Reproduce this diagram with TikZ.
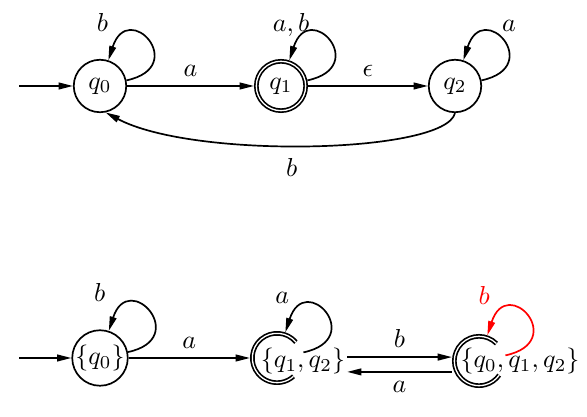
\documentclass[tikz,border=0pt]{standalone}
\usetikzlibrary{arrows.meta}
\begin{document}
\begin{tikzpicture}[x=0.385pt, y=-0.385pt,
  line width=0.65pt,
  >={Triangle[length=5.5pt,width=2.6pt]},
  state/.style={circle, draw, minimum size=20.2pt, inner sep=0pt},
  final/.style={circle, draw, double, double distance=0.5pt, minimum size=19pt, inner sep=0pt, outer sep=0.9pt},
  openfinal/.style={circle, minimum size=19pt, inner sep=0pt, outer sep=0.9pt},
  ring/.style={double, double distance=0.5pt},
  setlabel/.style={inner xsep=0.5pt, inner ysep=1pt},
  looplabel/.style={anchor=base, yshift=11.2pt}
]
\useasboundingbox (0,0) rectangle (587,417);

% upper automaton
\node[state] (q0) at (100,86) {$q_0$};
\node[final] (q1) at (281,86) {$q_1$};
\node[state] (q2) at (455,86) {$q_2$};
\coordinate (s0) at (19,86);
\draw[->] (s0) -- (q0);
\draw[->] (q0) -- node[above] {$a$} (q1);
\draw[->] (q1) -- node[above] {$\epsilon$} (q2);
\draw[->] (q0.12) .. controls +(12:25pt) and +(72:25pt) .. (q0.72)
  node[looplabel, xshift=-2.3pt] {$b$};
\draw[->] (q1.12) .. controls +(12:25pt) and +(72:25pt) .. (q1.72)
  node[looplabel, xshift=0.7pt] {$a,b$};
\draw[->] (q2.12) .. controls +(12:25pt) and +(72:25pt) .. (q2.72)
  node[looplabel, xshift=17.6pt] {$a$};
\draw[->] (q2.south) to[out=-103, in=-28, out distance=16pt, in distance=38.5pt]
  node[pos=0.54, below=1.5pt] {$b$} (q0.-78);

% lower automaton
\node[state] (C0) at (100,358) {$\{q_0\}$};
\node[openfinal] (C12) at (277,358) {};
\node[openfinal] (C012) at (479,361) {};
\draw[ring] ([shift={(40:9.5pt)}]C12.center) arc[start angle=40, end angle=312, radius=9.5pt];
\draw[ring] ([shift={(45:9.5pt)}]C012.center) arc[start angle=45, end angle=325, radius=9.5pt];
\coordinate (s1) at (19,358);
\draw[->] (s1) -- (C0);
\draw[->] (C0.12) .. controls +(12:25pt) and +(72:25pt) .. (C0.72)
  node[looplabel, xshift=-3.5pt] {$b$};
\draw[->] (C12.12) .. controls +(12:25pt) and +(72:25pt) .. (C12.72)
  node[looplabel, xshift=-1.2pt] {$a$};
\draw[->, red] (C012.12) .. controls +(12:25pt) and +(72:25pt) .. (C012.72)
  node[looplabel, xshift=-1.2pt, yshift=0.7pt] {$b$};
\node[setlabel] (T12) at (303,361) {$\{q_1,q_2\}$};
\node[setlabel] (T012) at (520,361) {$\{q_0,q_1,q_2\}$};
\draw[->] (C0) -- node[above] {$a$} (C12);
\draw[->, transform canvas={yshift=1.5pt}] (T12) -- node[above] {$b$} (C012);
\draw[->, transform canvas={yshift=-4.2pt}] (C012) -- node[below] {$a$} (T12);
\end{tikzpicture}
\end{document}
